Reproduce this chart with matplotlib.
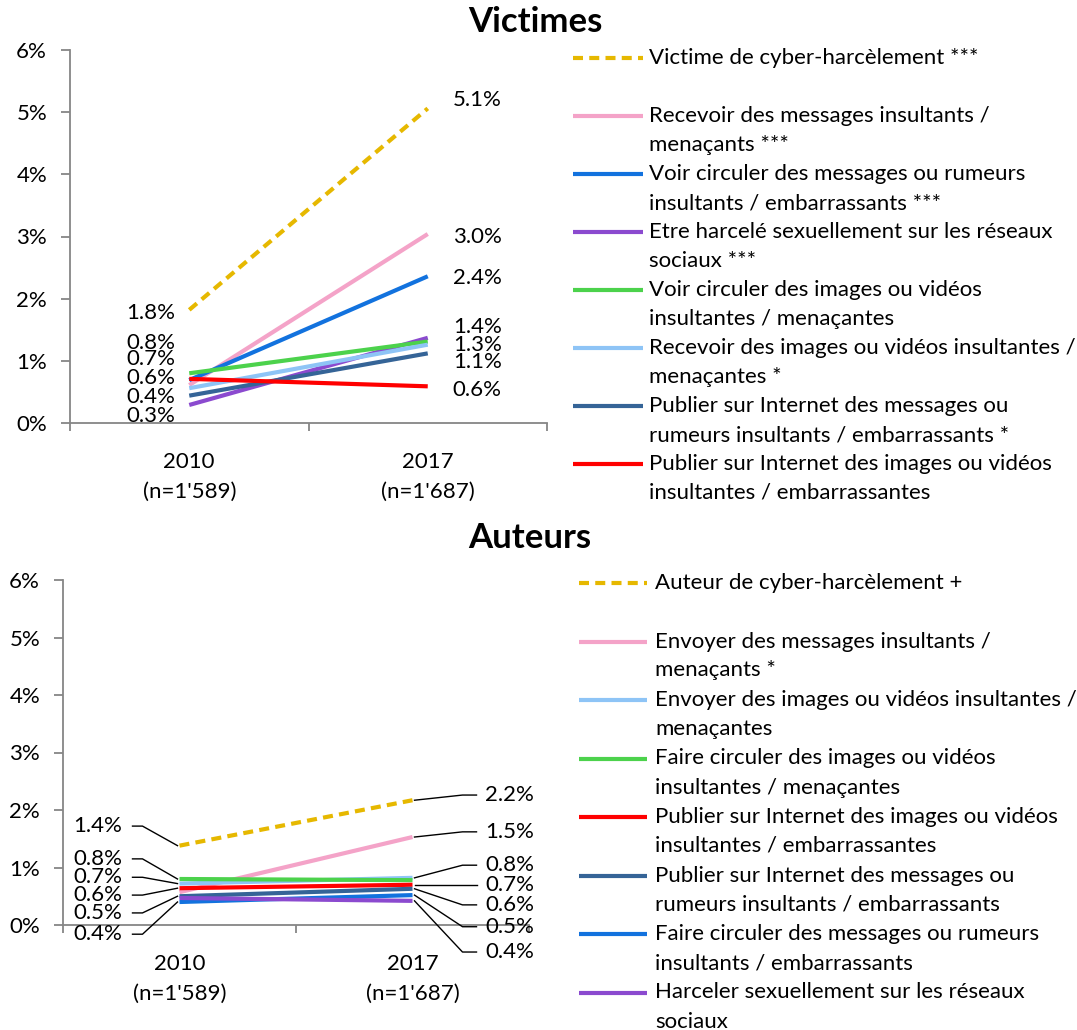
import matplotlib
matplotlib.use("Agg")
import matplotlib.pyplot as plt
import numpy as np

plt.rcParams['font.family'] = ['Lato', 'DejaVu Sans']

W, H = 1077, 1030
DPI = 100

years = ["2010\n(n=1'589)", "2017\n(n=1'687)"]

# --- Victimes ---
vic_names = [
    "Victime de cyber-harcèlement ***",
    "Recevoir des messages insultants /\nmenaçants ***",
    "Voir circuler des messages ou rumeurs\ninsultants / embarrassants ***",
    "Etre harcelé sexuellement sur les réseaux\nsociaux ***",
    "Voir circuler des images ou vidéos\ninsultantes / menaçantes",
    "Recevoir des images ou vidéos insultantes /\nmenaçantes *",
    "Publier sur Internet des messages ou\nrumeurs insultants / embarrassants *",
    "Publier sur Internet des images ou vidéos\ninsultantes / embarrassantes",
]
vic_colors = ['#E6B800', '#F4A3C8', '#1272DE', '#8B4ACF', '#4CD24C', '#8EC4F6', '#356497', '#FF0000']
vic_2010 = [1.82, 0.61, 0.69, 0.29, 0.80, 0.56, 0.44, 0.71]
vic_2017 = [5.06, 3.04, 2.36, 1.37, 1.31, 1.26, 1.12, 0.59]
# label text heights (None = no label shown)
vic_txt_2010 = [1.77, None, None, 0.11, 1.29, 0.72, 0.42, 1.03]
vic_txt_2017 = [5.19, 2.99, 2.33, 1.54, 1.25, None, 0.98, 0.53]

# --- Auteurs ---
aut_names = [
    "Auteur de cyber-harcèlement +",
    "Envoyer des messages insultants /\nmenaçants *",
    "Envoyer des images ou vidéos insultantes /\nmenaçantes",
    "Faire circuler des images ou vidéos\ninsultantes / menaçantes",
    "Publier sur Internet des images ou vidéos\ninsultantes / embarrassantes",
    "Publier sur Internet des messages ou\nrumeurs insultants / embarrassants",
    "Faire circuler des messages ou rumeurs\ninsultants / embarrassants",
    "Harceler sexuellement sur les réseaux\nsociaux",
]
aut_colors = ['#E6B800', '#F4A3C8', '#8EC4F6', '#4CD24C', '#FF0000', '#356497', '#1272DE', '#8B4ACF']
aut_2010 = [1.38, 0.57, 0.72, 0.80, 0.64, 0.50, 0.40, 0.47]
aut_2017 = [2.17, 1.53, 0.82, 0.78, 0.70, 0.63, 0.52, 0.42]
aut_txt_2010 = [1.72, None, 0.83, 1.15, 0.52, 0.21, -0.16, None]
aut_txt_2017 = [2.26, 1.62, 1.04, None, 0.70, 0.35, -0.03, -0.47]

FS = 16
GRAY = '#868686'

fig = plt.figure(figsize=(W / DPI, H / DPI), dpi=DPI)


def px(x, y):
    return x / W, 1 - y / H


def setup_axes(rect):
    ax = fig.add_axes(rect)
    ax.set_xlim(-0.5, 1.5)
    ax.set_ylim(0, 6)
    for s in ['top', 'right']:
        ax.spines[s].set_visible(False)
    for s in ['left', 'bottom']:
        ax.spines[s].set_color(GRAY)
        ax.spines[s].set_linewidth(1.3)
    ax.set_yticks(range(7))
    ax.set_yticklabels([f'{i}%' for i in range(7)], fontsize=FS)
    ax.tick_params(axis='y', length=6.5, width=1.3, color=GRAY, pad=10)
    ax.set_xticks([0, 1])
    ax.set_xticklabels(years, fontsize=FS, linespacing=1.6)
    ax.tick_params(axis='x', which='major', length=0, pad=21)
    ax.set_xticks([-0.5, 0.5, 1.5], minor=True)
    ax.tick_params(axis='x', which='minor', length=6, width=1.3, color=GRAY)
    return ax


def draw_lines(ax, v10, v17, colors):
    for i, (a, b, c) in enumerate(zip(v10, v17, colors)):
        if i == 0:
            ax.plot([0, 1], [a, b], color=c, lw=3, linestyle=(0, (2.4, 1.5)),
                    solid_capstyle='butt', zorder=3)
        else:
            ax.plot([0, 1], [a, b], color=c, lw=3, solid_capstyle='butt', zorder=3 + i * 0.01)


def to_data(ax, pts):
    return ax.transData.inverted().transform(np.array(pts))


def disp(ax, x, y):
    return ax.transData.transform((x, y))


def label_simple(ax, vals, txt, x, dx, ha):
    for v, t in zip(vals, txt):
        if t is None:
            continue
        ax.annotate(f'{v:.1f}%', xy=(x, t), xytext=(dx * 72 / DPI, 0),
                    textcoords='offset points', ha=ha, va='center', fontsize=FS,
                    annotation_clip=False)


def label_leader(ax, vals, txt, x, side):
    for v, t in zip(vals, txt):
        if t is None:
            continue
        cx, py = disp(ax, x, v)
        _, ty = disp(ax, x, t)
        if side == 'left':
            tx = -57
            pts = [(cx + tx + 10, ty), (cx + tx + 20, ty), (cx - 2, py)]
            ha = 'right'
        else:
            tx = 73
            pts = [(cx + 2, py), (cx + 50, ty), (cx + 64, ty)]
            ha = 'left'
        d = to_data(ax, pts)
        ax.plot(d[:, 0], d[:, 1], color='black', lw=1, clip_on=False, zorder=5)
        ax.annotate(f'{v:.1f}%', xy=(x, t), xytext=(tx * 72 / DPI, 0),
                    textcoords='offset points', ha=ha, va='center', fontsize=FS,
                    annotation_clip=False)


def legend(names, colors, x0, x1, xt, y0, step):
    for i, (n, c) in enumerate(zip(names, colors)):
        y = y0 + step * i
        ls = (0, (2.4, 1.5)) if i == 0 else '-'
        fig.add_artist(plt.Line2D([x0 / W, x1 / W], [1 - y / H, 1 - y / H], color=c,
                                  lw=3, linestyle=ls, solid_capstyle='butt'))
        for j, line in enumerate(n.split('\n')):
            fig.text(*px(xt, y + 29 * j), line, fontsize=FS, ha='left', va='center')


# top chart
ax1 = setup_axes([70 / W, 1 - 423 / H, (547 - 70) / W, (423 - 50) / H])
draw_lines(ax1, vic_2010, vic_2017, vic_colors)
label_simple(ax1, vic_2010, vic_txt_2010, 0, -14, 'right')
label_simple(ax1, vic_2017, vic_txt_2017, 1, 25, 'left')
fig.text(*px(535, 22), 'Victimes', fontsize=25, fontweight='bold', ha='center', va='center')
legend(vic_names, vic_colors, 573, 643, 649, 58, 58)

# bottom chart
ax2 = setup_axes([63 / W, 1 - 925 / H, (529 - 63) / W, (925 - 580) / H])
draw_lines(ax2, aut_2010, aut_2017, aut_colors)
label_leader(ax2, aut_2010, aut_txt_2010, 0, 'left')
label_leader(ax2, aut_2017, aut_txt_2017, 1, 'right')
fig.text(*px(530, 538), 'Auteurs', fontsize=25, fontweight='bold', ha='center', va='center')
legend(aut_names, aut_colors, 579, 647, 655, 583, 58.5)

fig.savefig('out.png', dpi=DPI)
